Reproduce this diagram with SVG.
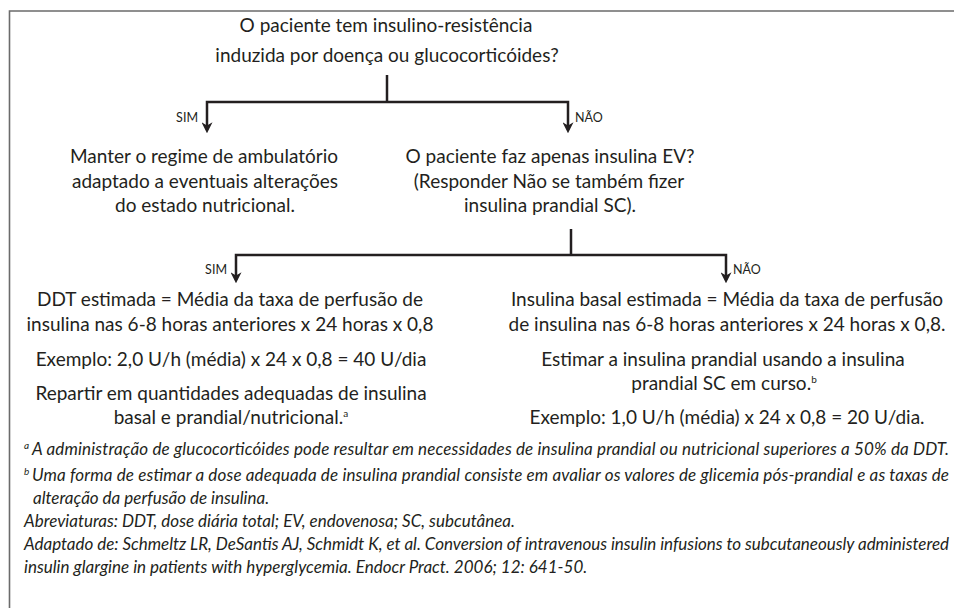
<svg xmlns="http://www.w3.org/2000/svg" width="954" height="608" viewBox="0 0 954 608">
<defs>
<style>
.t{font-family:Lato,"Liberation Sans",sans-serif;font-size:19px;fill:#231f20;text-anchor:middle}
.lbl{font-family:Lato,"Liberation Sans",sans-serif;font-size:12.5px;fill:#231f20}
.fn{font-family:Lato,"Liberation Sans",sans-serif;font-size:17px;font-style:italic;fill:#231f20}
.fs{font-family:Lato,"Liberation Sans",sans-serif;font-size:10px;font-style:italic;fill:#231f20}
.sup{font-size:10px}
.c{fill:none;stroke:#231f20;stroke-width:2.5;stroke-linejoin:miter}
.frame{fill:none;stroke:#6b6b6b;stroke-width:1.6}
</style>
<marker id="arr" viewBox="0 0 10 10" refX="7" refY="5" markerWidth="11" markerHeight="11" markerUnits="userSpaceOnUse" orient="auto">
<path d="M0,0 L10,5 L0,10 L3,5 z" fill="#231f20"/>
</marker>
</defs>
<rect width="954" height="608" fill="#fff"/>
<path class="frame" d="M9.5,608 V11 H954"/>

<g id="connectors">
<path class="c" d="M387,75 V102"/>
<path class="c" d="M387,102 H207 V130" marker-end="url(#arr)"/>
<path class="c" d="M387,102 H568 V130" marker-end="url(#arr)"/>
<path class="c" d="M571,229 V255"/>
<path class="c" d="M571,255 H236 V280" marker-end="url(#arr)"/>
<path class="c" d="M571,255 H726 V280" marker-end="url(#arr)"/>
<text class="lbl" x="198" y="122" text-anchor="end">SIM</text>
<text class="lbl" x="575" y="122">NÃO</text>
<text class="lbl" x="227" y="274" text-anchor="end">SIM</text>
<text class="lbl" x="733" y="274">NÃO</text>
</g>

<g id="q1">
<text class="t" x="386" y="32">O paciente tem insulino-resistência</text>
<text class="t" x="387" y="62">induzida por doença ou glucocorticóides?</text>
</g>

<g id="manter">
<text class="t" x="204" y="163">Manter o regime de ambulatório</text>
<text class="t" x="205" y="188">adaptado a eventuais alterações</text>
<text class="t" x="205" y="212">do estado nutricional.</text>
</g>

<g id="q2">
<text class="t" x="550" y="163">O paciente faz apenas insulina EV?</text>
<text class="t" x="549" y="188">(Responder Não se também fizer</text>
<text class="t" x="550" y="212">insulina prandial SC).</text>
</g>

<g id="ddt">
<text class="t" x="230" y="306">DDT estimada = Média da taxa de perfusão de</text>
<text class="t" x="230" y="331">insulina nas 6-8 horas anteriores x 24 horas x 0,8</text>
<text class="t" x="231" y="366">Exemplo: 2,0 U/h (média) x 24 x 0,8 = 40 U/dia</text>
<text class="t" x="231" y="400">Repartir em quantidades adequadas de insulina</text>
<text class="t" x="231" y="424">basal e prandial/nutricional.<tspan class="sup" dy="-7">a</tspan></text>
</g>

<g id="basal">
<text class="t" x="727" y="306">Insulina basal estimada = Média da taxa de perfusão</text>
<text class="t" x="727" y="331">de insulina nas 6-8 horas anteriores x 24 horas x 0,8.</text>
<text class="t" x="723" y="366">Estimar a insulina prandial usando a insulina</text>
<text class="t" x="724" y="390">prandial SC em curso.<tspan class="sup" dy="-7">b</tspan></text>
<text class="t" x="727" y="424">Exemplo: 1,0 U/h (média) x 24 x 0,8 = 20 U/dia.</text>
</g>

<g id="footnotes">
<text class="fs" x="24" y="449">a</text>
<text class="fn" x="32" y="455" textLength="917" lengthAdjust="spacing">A administração de glucocorticóides pode resultar em necessidades de insulina prandial ou nutricional superiores a 50% da DDT.</text>
<text class="fs" x="24" y="475">b</text>
<text class="fn" x="32" y="481" textLength="917" lengthAdjust="spacing">Uma forma de estimar a dose adequada de insulina prandial consiste em avaliar os valores de glicemia pós-prandial e as taxas de</text>
<text class="fn" x="33" y="504">alteração da perfusão de insulina.</text>
<text class="fn" x="24" y="527">Abreviaturas: DDT, dose diária total; EV, endovenosa; SC, subcutânea.</text>
<text class="fn" x="24" y="550" textLength="925" lengthAdjust="spacing">Adaptado de: Schmeltz LR, DeSantis AJ, Schmidt K, et al. Conversion of intravenous insulin infusions to subcutaneously administered</text>
<text class="fn" x="24" y="573">insulin glargine in patients with hyperglycemia. Endocr Pract. 2006; 12: 641-50.</text>
</g>
</svg>
